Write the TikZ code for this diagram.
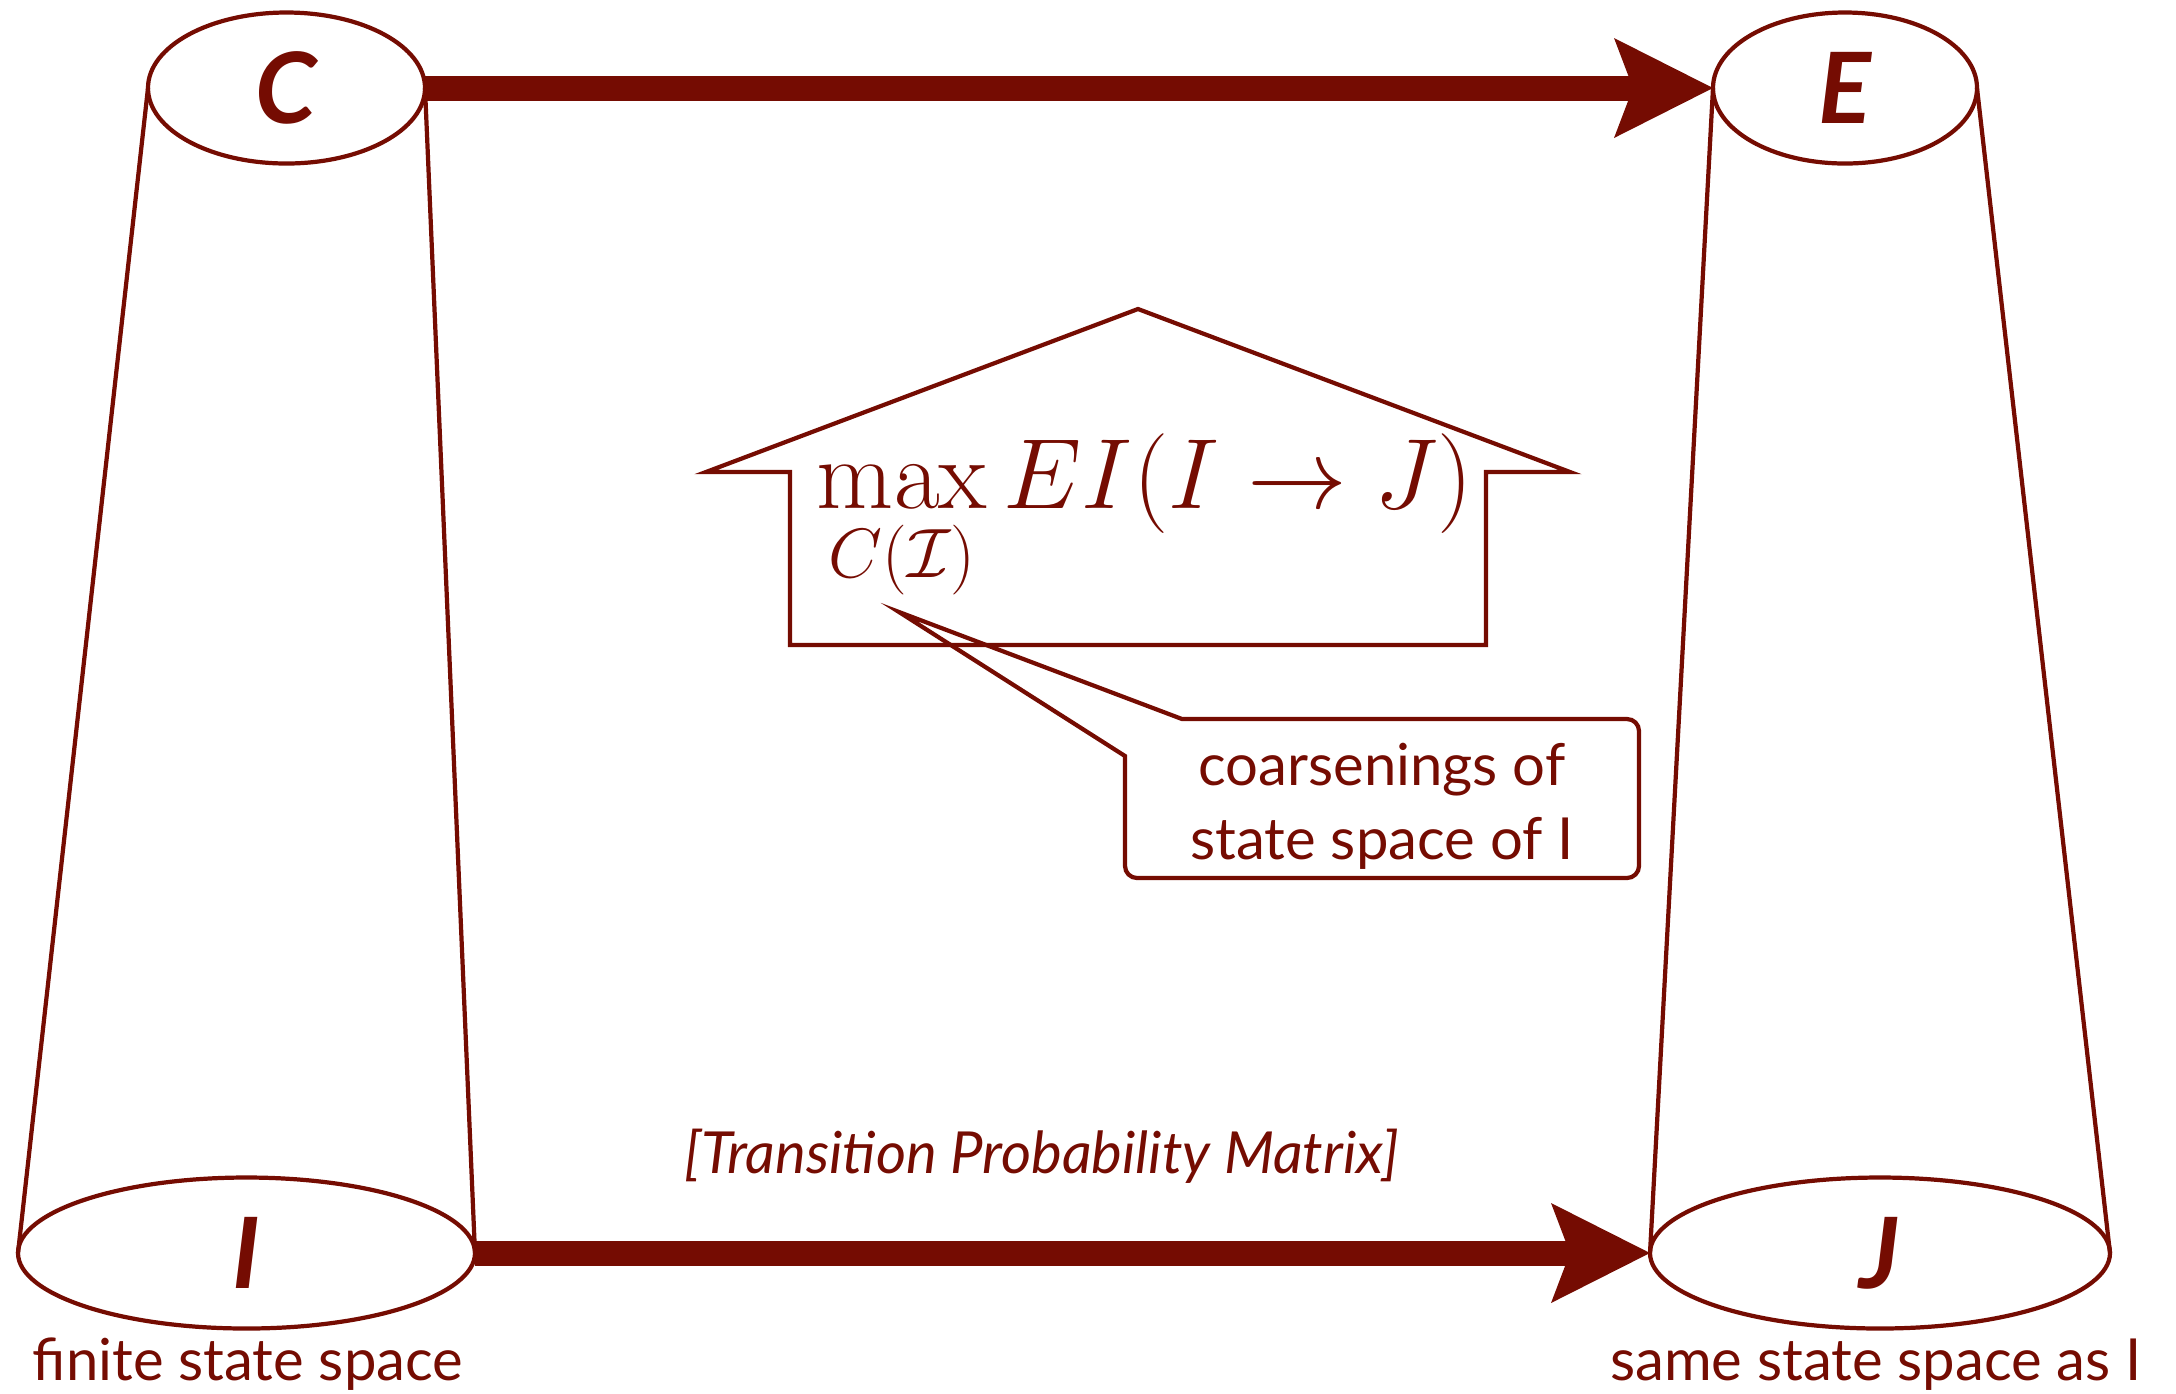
\documentclass[tikz,border=0pt]{standalone}
\usepackage{fix-cm}
\usepackage[no-math]{fontspec}
\setmainfont{Lato}
\usetikzlibrary{shapes.geometric,arrows.meta}
\definecolor{dkred}{RGB}{117,12,2}
\begin{document}
\begin{tikzpicture}[color=dkred, line width=1.2pt,
  every node/.style={inner sep=0pt, outer sep=0pt, font=\fontsize{16.5}{21}\selectfont},
  sspace/.style={draw, ellipse, fill=white, minimum height=1.51cm, font=\fontsize{28}{30}\selectfont\bfseries\itshape},
  flow/.style={line width=0.25cm, -{Stealth[length=9.9mm, width=10mm, inset=1.9mm, line width=0pt]}}]
\useasboundingbox (0,0) rectangle (21.76,-13.93);
% the four state spaces
\node[sspace, minimum width=2.77cm] (c) at (2.865,-0.88) {C};
\node[sspace, minimum width=2.64cm] (e) at (18.45,-0.88) {E};
\node[sspace, minimum width=4.57cm] (i) at (2.465,-12.53) {I};
\node[sspace, minimum width=4.60cm] (j) at (18.80,-12.53) {J};
\draw (c.west) -- (i.west); \draw (c.east) -- (i.east);
\draw (e.west) -- (j.west); \draw (e.east) -- (j.east);
\draw[flow] (c.east) -- (e.west); \draw[flow] (i.east) -- (j.west);
\node[anchor=base] (ilab) at (2.48,-13.80) {finite state space};
\node[anchor=base] (jlab) at (18.76,-13.80) {same state space as I};
\node[anchor=base, font=\fontsize{16.5}{21}\selectfont\itshape] (tpm) at (10.42,-11.73) {[Transition Probability Matrix]};
% up arrow with the objective
\draw (7.06,-4.72) -- (11.38,-3.09) -- (15.70,-4.72) -- (14.86,-4.72) -- (14.86,-6.45) -- (7.90,-6.45) -- (7.90,-4.72) -- cycle;
\node[anchor=base west, font=\fontsize{28.4}{32}\selectfont] (ei) at (8.16,-5.08) {$\displaystyle\max_{\rule{0pt}{18pt}C(\mathcal{I})} EI(I\to J)$};
% callout
\draw (11.82,-7.19) [rounded corners=0.12cm] -- (16.39,-7.19) -- (16.39,-8.78) -- (11.25,-8.78) [sharp corners] -- (11.25,-7.56) -- (8.99,-6.12) -- cycle;
\node[align=center] (coarse) at (13.82,-8.06) {coarsenings of\\state space of I};
\end{tikzpicture}
\end{document}
